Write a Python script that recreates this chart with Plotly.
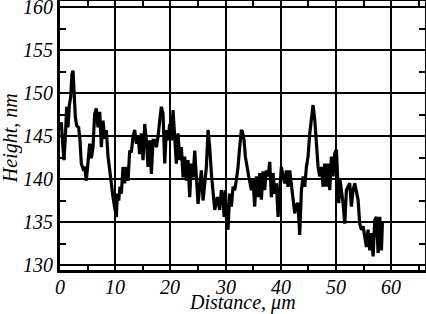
import plotly.graph_objects as go

distance_um = [0.0, 0.24, 0.48, 0.72, 0.97, 1.21, 1.45, 1.69, 1.93, 2.17, 2.36, 2.54, 2.78, 3.02, 3.38, 3.62,
               3.86, 4.17, 4.47, 4.77, 5.07, 5.37, 5.68, 5.98, 6.28, 6.58, 6.88, 7.19, 7.49, 7.79, 8.09, 8.39,
               8.70, 9.00, 9.30, 9.60, 9.90, 10.21, 10.39, 10.63, 10.87, 11.11, 11.41, 11.71, 12.02, 12.32,
               12.62, 12.92, 13.22, 13.53, 13.83, 14.13, 14.43, 14.73, 15.04, 15.34, 15.64, 15.94, 16.24,
               16.55, 16.85, 17.15, 17.45, 17.75, 18.06, 18.36, 18.66, 18.96, 19.26, 19.57, 19.87, 20.17,
               20.47, 20.77, 21.07, 21.38, 21.68, 21.98, 22.28, 22.58, 22.89, 23.19, 23.49, 23.79, 24.09,
               24.40, 24.70, 25.00, 25.30, 25.60, 25.91, 26.21, 26.51, 26.81, 27.11, 27.42, 27.72, 28.02,
               28.50, 28.92, 29.22, 29.53, 29.71, 29.95, 30.19, 30.43, 30.73, 31.04, 31.34, 31.64, 31.94,
               32.24, 32.55, 32.85, 33.03, 33.33, 33.57, 33.93, 34.18, 34.42, 34.66, 34.96, 35.26, 35.56,
               35.87, 36.17, 36.47, 36.77, 37.07, 37.38, 37.68, 37.98, 38.28, 38.58, 38.89, 39.19, 39.49,
               39.79, 40.09, 40.40, 40.70, 41.00, 41.30, 41.60, 41.91, 42.21, 42.51, 42.81, 43.11, 43.41,
               43.72, 44.02, 44.32, 44.62, 44.92, 45.23, 45.53, 45.83, 46.13, 46.43, 46.74, 47.04, 47.34,
               47.64, 47.94, 48.25, 48.55, 48.85, 49.15, 49.45, 49.76, 50.06, 50.24, 50.48, 50.72, 50.96,
               51.26, 51.57, 51.87, 52.17, 52.47, 52.77, 53.08, 53.38, 53.68, 53.98, 54.28, 54.59, 54.89,
               55.19, 55.49, 55.79, 56.10, 56.40, 56.70, 57.00, 57.30, 57.61, 57.91, 58.21, 58.39]

height_nm = [146.0, 146.6, 144.1, 142.2, 144.9, 148.4, 146.0, 148.6, 149.5, 152.2, 152.6, 150.3, 147.2, 146.2,
             146.0, 144.5, 141.8, 141.2, 141.4, 139.8, 142.2, 144.1, 142.4, 143.7, 147.6, 148.2, 146.0, 147.8,
             143.7, 146.8, 144.7, 145.7, 142.6, 141.0, 139.1, 137.9, 136.7, 135.6, 138.3, 137.5, 139.1, 138.3,
             141.4, 139.5, 141.4, 139.8, 143.3, 143.1, 144.9, 145.7, 144.1, 145.1, 142.9, 145.3, 142.2, 146.4,
             144.5, 141.4, 144.5, 140.6, 144.5, 144.5, 143.7, 144.9, 146.8, 148.4, 147.6, 141.8, 145.7, 144.5,
             146.4, 144.5, 148.0, 144.1, 141.8, 145.3, 142.2, 143.7, 140.2, 142.6, 139.8, 142.2, 137.9, 141.8,
             140.2, 143.3, 139.5, 137.1, 139.1, 141.0, 137.5, 139.1, 141.4, 145.7, 143.7, 140.6, 138.7, 136.4,
             137.9, 136.4, 138.7, 137.9, 135.6, 138.7, 134.8, 134.1, 138.3, 136.8, 139.1, 138.7, 139.9, 141.4,
             143.8, 145.7, 145.5, 144.5, 142.6, 141.0, 140.3, 139.5, 138.7, 139.9, 136.8, 140.3, 137.9, 140.7,
             137.6, 140.9, 138.7, 141.0, 140.3, 142.0, 137.9, 140.7, 138.3, 139.5, 135.6, 138.7, 141.4, 140.3,
             139.5, 141.0, 139.1, 141.0, 139.1, 137.9, 136.0, 137.0, 137.2, 133.5, 138.7, 140.3, 139.1, 141.4,
             142.6, 145.3, 146.9, 148.6, 146.9, 144.5, 141.4, 140.3, 141.4, 139.1, 141.8, 139.1, 141.8, 138.7,
             142.6, 140.3, 143.0, 143.4, 140.3, 137.2, 139.9, 138.7, 137.2, 134.8, 138.7, 139.1, 139.5, 136.8,
             138.7, 139.5, 138.3, 137.6, 134.8, 134.1, 134.5, 133.3, 132.1, 134.1, 131.7, 133.7, 131.0, 135.2,
             135.6, 131.4, 135.6, 131.7, 135.0]

x_ticks = [0, 10, 20, 30, 40, 50, 60]
y_ticks = [130, 135, 140, 145, 150, 155, 160]
x_title = "Distance, μm"
y_title = "Height, nm"

FONT = "Liberation Serif"
SERIF = dict(family=FONT, size=20, color="black")

fig = go.Figure()
fig.add_trace(go.Scatter(x=distance_um, y=height_nm, mode="lines",
                         line=dict(color="black", width=3.2), hoverinfo="skip"))


def axis_style():
    return dict(
        showline=True, linecolor="black", linewidth=2.5, mirror="allticks",
        showgrid=True, gridcolor="black", gridwidth=1.5,
        ticks="inside", ticklen=0, tickcolor="black",
        zeroline=False, showticklabels=False,
    )


fig.update_xaxes(
    **axis_style(),
    range=[0, 66.1], tickmode="array", tickvals=x_ticks,
    minor=dict(tickmode="linear", tick0=5, dtick=10, ticks="inside", ticklen=5,
               tickcolor="black", tickwidth=1.5, showgrid=False),
)
fig.update_yaxes(
    **axis_style(),
    range=[129.42, 160.7], tickmode="array", tickvals=y_ticks,
    minor=dict(tickmode="linear", tick0=132.5, dtick=5, ticks="inside", ticklen=6,
               tickcolor="black", tickwidth=1.5, showgrid=False),
)

# tick labels as italic serif text
for v in x_ticks:
    fig.add_annotation(x=v, xref="x", y=0, yref="paper", text=f"<i>{v}</i>", showarrow=False,
                       xanchor="center", yanchor="top", yshift=-4, font=SERIF)
for v in y_ticks:
    fig.add_annotation(x=0, xref="paper", y=v, yref="y", text=f"<i>{v}</i>", showarrow=False,
                       xanchor="right", yanchor="middle", xshift=-5, font=SERIF)

# axis titles
fig.add_annotation(x=0.5, xref="paper", y=0, yref="paper", text=f"<i>{x_title}</i>", showarrow=False,
                   xanchor="center", yanchor="middle", yshift=-32, font=SERIF)
fig.add_annotation(x=0, xref="paper", y=0.49, yref="paper", text=f"<i>{y_title}</i>", showarrow=False,
                   textangle=-90, xanchor="center", yanchor="middle", xshift=-50, font=SERIF)

fig.update_layout(
    width=426, height=314,
    font=dict(SERIF),
    margin=dict(l=60, r=1, t=1, b=44, autoexpand=False),
    plot_bgcolor="white", paper_bgcolor="white",
    showlegend=False,
)

fig.write_html("out.html", config={"displayModeBar": False},
               post_script="document.body.style.margin='0';document.body.style.padding='0';")
